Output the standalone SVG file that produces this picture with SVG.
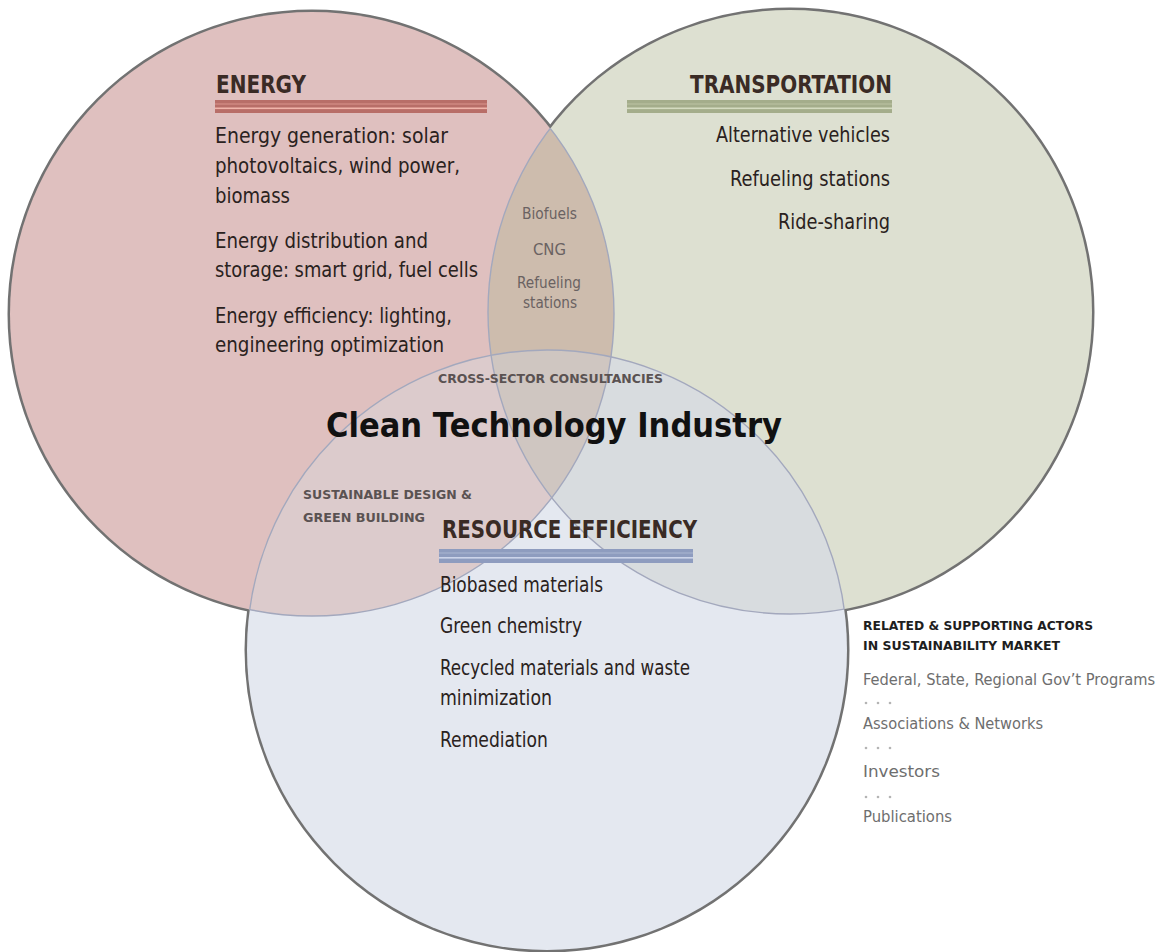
<svg xmlns="http://www.w3.org/2000/svg" width="1162" height="952" viewBox="0 0 1162 952">
<style>
.outline{fill:none;stroke:#727272;stroke-width:5}
.inner{fill:none;stroke:#a3a8bd;stroke-width:1.4}
.hdr{font-family:"Liberation Sans Narrow","DejaVu Sans Condensed","Liberation Sans",sans-serif;font-weight:bold;font-size:24px;fill:#3a2b25}
.body{font-family:"Liberation Sans Narrow","DejaVu Sans Condensed","Liberation Sans",sans-serif;font-size:21px;fill:#2a2220}
.sub{font-family:"Liberation Sans Narrow","DejaVu Sans Condensed","Liberation Sans",sans-serif;font-weight:bold;font-size:13px;fill:#5a5252}
.lens{font-family:"Liberation Sans Narrow","DejaVu Sans Condensed","Liberation Sans",sans-serif;font-size:15px;fill:#6a6262}
.title{font-family:"DejaVu Sans","Liberation Sans",sans-serif;font-weight:bold;font-size:33px;fill:#111}
.side{font-family:"Liberation Sans Narrow","DejaVu Sans Condensed","Liberation Sans",sans-serif;font-size:16px;fill:#6e6e6e}
.sidehdr{font-family:"Liberation Sans Narrow","DejaVu Sans Condensed","Liberation Sans",sans-serif;font-weight:bold;font-size:13px;fill:#1e1e1e}
.dot{fill:#b4b4b4}
</style>
<defs>
<clipPath id="cR"><circle cx="312" cy="314" r="302"/></clipPath>
<clipPath id="cG"><circle cx="790" cy="312" r="302"/></clipPath>
<clipPath id="cB"><circle cx="547" cy="650" r="300"/></clipPath>
<clipPath id="cGB"><circle cx="790" cy="312" r="302"/><circle cx="547" cy="650" r="300"/></clipPath>
<clipPath id="cRB"><circle cx="312" cy="314" r="302"/><circle cx="547" cy="650" r="300"/></clipPath>
<clipPath id="cRG"><circle cx="312" cy="314" r="302"/><circle cx="790" cy="312" r="302"/></clipPath>
</defs>
<rect width="1162" height="952" fill="#ffffff"/>
<g id="circles">
<circle class="outline" cx="312" cy="314" r="302"/>
<circle class="outline" cx="790" cy="312" r="302"/>
<circle class="outline" cx="547" cy="650" r="300"/>
<circle id="circle-energy" cx="312" cy="314" r="302" fill="#dfc0bf"/>
<circle id="circle-transportation" cx="790" cy="312" r="302" fill="#dde0d1"/>
<circle id="circle-resource" cx="547" cy="650" r="300" fill="#e4e8f0"/>
<circle cx="790" cy="312" r="302" fill="#cdbcad" clip-path="url(#cR)"/>
<circle cx="547" cy="650" r="300" fill="#dccbcc" clip-path="url(#cR)"/>
<circle cx="547" cy="650" r="300" fill="#d8dcdf" clip-path="url(#cG)"/>
<g clip-path="url(#cG)"><circle cx="547" cy="650" r="300" fill="#cfc6c1" clip-path="url(#cR)"/></g>
<circle class="inner" cx="312" cy="314" r="302" clip-path="url(#cGB)"/>
<circle class="inner" cx="790" cy="312" r="302" clip-path="url(#cRB)"/>
<circle class="inner" cx="547" cy="650" r="300" clip-path="url(#cRG)"/>
</g>
<g id="energy">
<text class="hdr" x="216" y="93" textLength="90" lengthAdjust="spacingAndGlyphs">ENERGY</text>
<rect x="215" y="100" width="272" height="13" fill="#b86e68"/>
<rect x="215" y="103.5" width="272" height="1" fill="#d9948c"/>
<rect x="215" y="107.5" width="272" height="1.6" fill="#f0b4aa"/>
<text class="body" x="215" y="143" textLength="233" lengthAdjust="spacingAndGlyphs">Energy generation: solar</text>
<text class="body" x="215" y="173" textLength="245" lengthAdjust="spacingAndGlyphs">photovoltaics, wind power,</text>
<text class="body" x="215" y="203" textLength="75" lengthAdjust="spacingAndGlyphs">biomass</text>
<text class="body" x="215" y="248" textLength="213" lengthAdjust="spacingAndGlyphs">Energy distribution and</text>
<text class="body" x="215" y="277" textLength="263" lengthAdjust="spacingAndGlyphs">storage: smart grid, fuel cells</text>
<text class="body" x="215" y="323" textLength="237" lengthAdjust="spacingAndGlyphs">Energy efficiency: lighting,</text>
<text class="body" x="215" y="352" textLength="229" lengthAdjust="spacingAndGlyphs">engineering optimization</text>
</g>
<g id="transportation">
<text class="hdr" x="690" y="93" textLength="202" lengthAdjust="spacingAndGlyphs">TRANSPORTATION</text>
<rect x="627" y="100" width="265" height="13" fill="#a4ad8b"/>
<rect x="627" y="103.5" width="265" height="1" fill="#bcc4a4"/>
<rect x="627" y="107.5" width="265" height="1.6" fill="#d4dbc0"/>
<text class="body" x="716" y="142" textLength="174" lengthAdjust="spacingAndGlyphs">Alternative vehicles</text>
<text class="body" x="730" y="186" textLength="160" lengthAdjust="spacingAndGlyphs">Refueling stations</text>
<text class="body" x="778" y="229" textLength="112" lengthAdjust="spacingAndGlyphs">Ride-sharing</text>
</g>
<g id="energy-transportation">
<text class="lens" x="522" y="219" textLength="55" lengthAdjust="spacingAndGlyphs">Biofuels</text>
<text class="lens" x="533" y="255" textLength="33" lengthAdjust="spacingAndGlyphs">CNG</text>
<text class="lens" x="517" y="288" textLength="64" lengthAdjust="spacingAndGlyphs">Refueling</text>
<text class="lens" x="523" y="308" textLength="54" lengthAdjust="spacingAndGlyphs">stations</text>
</g>
<g id="center">
<text class="sub" x="438" y="383" textLength="225" lengthAdjust="spacingAndGlyphs">CROSS-SECTOR CONSULTANCIES</text>
<text class="title" x="326" y="437" textLength="456" lengthAdjust="spacingAndGlyphs">Clean Technology Industry</text>
</g>
<g id="energy-resource">
<text class="sub" x="303" y="499" textLength="169" lengthAdjust="spacingAndGlyphs">SUSTAINABLE DESIGN &amp;</text>
<text class="sub" x="303" y="522" textLength="122" lengthAdjust="spacingAndGlyphs">GREEN BUILDING</text>
</g>
<g id="resource">
<text class="hdr" x="442" y="538" textLength="255" lengthAdjust="spacingAndGlyphs">RESOURCE EFFICIENCY</text>
<rect x="439" y="549" width="254" height="14" fill="#8e9cbf"/>
<rect x="439" y="552.5" width="254" height="1" fill="#aab5d2"/>
<rect x="439" y="557" width="254" height="1.6" fill="#ccd4ea"/>
<text class="body" x="440" y="592" textLength="163" lengthAdjust="spacingAndGlyphs">Biobased materials</text>
<text class="body" x="440" y="633" textLength="142" lengthAdjust="spacingAndGlyphs">Green chemistry</text>
<text class="body" x="440" y="675" textLength="250" lengthAdjust="spacingAndGlyphs">Recycled materials and waste</text>
<text class="body" x="440" y="705" textLength="112" lengthAdjust="spacingAndGlyphs">minimization</text>
<text class="body" x="440" y="747" textLength="108" lengthAdjust="spacingAndGlyphs">Remediation</text>
</g>
<g id="supporting-actors">
<text class="sidehdr" x="863" y="630" textLength="230" lengthAdjust="spacingAndGlyphs">RELATED &amp; SUPPORTING ACTORS</text>
<text class="sidehdr" x="863" y="650" textLength="197" lengthAdjust="spacingAndGlyphs">IN SUSTAINABILITY MARKET</text>
<text class="side" x="863" y="685" textLength="292" lengthAdjust="spacingAndGlyphs">Federal, State, Regional Gov’t Programs</text>
<circle class="dot" cx="866" cy="703" r="1.3"/><circle class="dot" cx="878" cy="703" r="1.3"/><circle class="dot" cx="890" cy="703" r="1.3"/>
<text class="side" x="863" y="729" textLength="180" lengthAdjust="spacingAndGlyphs">Associations &amp; Networks</text>
<circle class="dot" cx="866" cy="748" r="1.3"/><circle class="dot" cx="878" cy="748" r="1.3"/><circle class="dot" cx="890" cy="748" r="1.3"/>
<text class="side" x="863" y="777" textLength="77" lengthAdjust="spacingAndGlyphs">Investors</text>
<circle class="dot" cx="866" cy="797" r="1.3"/><circle class="dot" cx="878" cy="797" r="1.3"/><circle class="dot" cx="890" cy="797" r="1.3"/>
<text class="side" x="863" y="822" textLength="89" lengthAdjust="spacingAndGlyphs">Publications</text>
</g>
</svg>
